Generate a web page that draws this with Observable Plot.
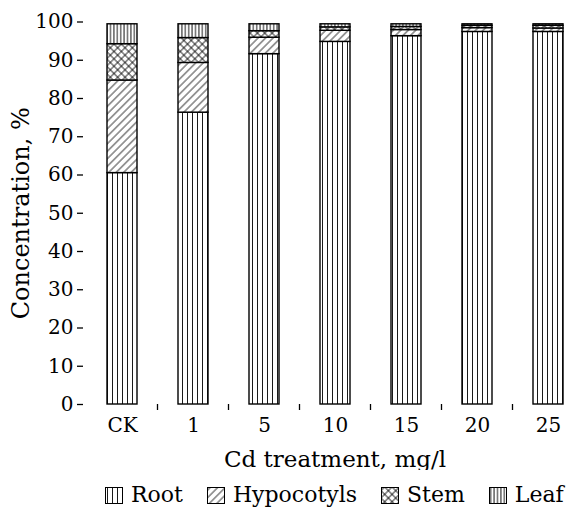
<!DOCTYPE html>
<html>
<head>
<meta charset="utf-8">
<script src="https://cdn.jsdelivr.net/npm/d3@7"></script>
<script src="https://cdn.jsdelivr.net/npm/@observablehq/plot@0.6"></script>
<style>
  html, body { margin: 0; padding: 0; background: #fff; }
  body { width: 586px; height: 509px; position: relative; font-family: "DejaVu Serif", serif; color: #000; }
  #legend { position: absolute; left: 105px; top: 484px; display: flex; align-items: flex-start; font-size: 22px; line-height: 22px; }
  #legend .item { display: flex; align-items: flex-start; margin-right: 24px; }
  #legend svg { margin-top: 3px; margin-right: 8px; }
</style>
</head>
<body>
<svg width="0" height="0" style="position:absolute">
  <defs>
    <pattern id="pat-Root" patternUnits="userSpaceOnUse" width="5" height="10">
      <rect width="5" height="10" fill="#fff"/>
      <line x1="2.5" y1="0" x2="2.5" y2="10" stroke="#000" stroke-width="0.9"/>
    </pattern>
    <pattern id="pat-Leaf" patternUnits="userSpaceOnUse" width="3.4" height="10">
      <rect width="3.4" height="10" fill="#fff"/>
      <line x1="1.7" y1="0" x2="1.7" y2="10" stroke="#000" stroke-width="0.9"/>
    </pattern>
    <pattern id="pat-Hypocotyls" patternUnits="userSpaceOnUse" width="5.3" height="10" patternTransform="rotate(45)">
      <rect width="5.3" height="10" fill="#fff"/>
      <line x1="2.65" y1="0" x2="2.65" y2="10" stroke="#000" stroke-width="0.8"/>
    </pattern>
    <pattern id="pat-Stem" patternUnits="userSpaceOnUse" width="5.2" height="5.2" patternTransform="rotate(45)">
      <rect width="5.2" height="5.2" fill="#fff"/>
      <line x1="2.6" y1="0" x2="2.6" y2="5.2" stroke="#000" stroke-width="0.8"/>
      <line x1="0" y1="2.6" x2="5.2" y2="2.6" stroke="#000" stroke-width="0.8"/>
    </pattern>
  </defs>
</svg>
<div id="chart"></div>
<div id="legend"></div>
<script>
// ---- data ----
const categories = ["CK", "1", "5", "10", "15", "20", "25"];
const parts = ["Root", "Hypocotyls", "Stem", "Leaf"];
const root       = [60.5, 76.3, 91.6, 94.8, 96.3, 97.4, 97.4];
const hypocotyls = [24.2, 13.0, 4.3, 2.9, 1.6, 1.0, 0.9];
const stem       = [9.5, 6.5, 1.7, 0.9, 0.8, 0.6, 0.7];
const leaf       = [5.2, 3.6, 1.8, 0.8, 0.7, 0.4, 0.4];
const yTicks = [0, 10, 20, 30, 40, 50, 60, 70, 80, 90, 100];
const xLabel = "Cd treatment, mg/l";
const yLabel = "Concentration, %";

const series = {Root: root, Hypocotyls: hypocotyls, Stem: stem, Leaf: leaf};
const table = parts.flatMap(p => categories.map((c, i) => ({category: c, part: p, value: series[p][i]})));

// tick marks on the band boundaries, derived from the x scale
function boundaryTicks(index, scales) {
  const x = scales.x, y = scales.y;
  const bw = x.bandwidth ? x.bandwidth() : 0;
  const g = d3.create("svg:g").attr("stroke", "#000").attr("stroke-width", 1.3);
  const y0 = y(0);
  for (let i = 0; i < categories.length - 1; i++) {
    const b = (x(categories[i]) + bw + x(categories[i + 1])) / 2;
    g.append("line").attr("x1", b).attr("x2", b).attr("y1", y0).attr("y2", y0 + 6);
  }
  return g.node();
}

const chart = Plot.plot({
  width: 586,
  height: 470,
  marginLeft: 83,
  marginRight: 0,
  marginTop: 21.5,
  marginBottom: 66,
  style: {fontFamily: "DejaVu Serif", background: "#fff", color: "#000"},
  x: {domain: categories, paddingInner: 0.58, paddingOuter: 0.29},
  y: {domain: [0, 100]},
  color: {domain: parts, range: parts.map(p => `url(#pat-${p})`)},
  marks: [
    Plot.barY(table, {x: "category", y: "value", fill: "part", stroke: "#000", strokeWidth: 1.4}),
    Plot.axisX({tickSize: 0, tickPadding: 13, fontSize: 20, line: true, strokeWidth: 1.3, label: null}),
    Plot.axisX({ticks: [], tickSize: 0, fontSize: 23, label: xLabel, labelArrow: "none", labelAnchor: "center", labelOffset: 62}),
    Plot.axisY({ticks: yTicks, tickSize: 6, tickPadding: 4, fontSize: 20, line: true, strokeWidth: 1.3, label: null}),
    Plot.axisY({ticks: [], tickSize: 0, fontSize: 24, label: yLabel, labelArrow: "none", labelAnchor: "center", labelOffset: 72}),
    boundaryTicks
  ]
});
document.getElementById("chart").append(chart);

// legend
const legend = d3.select("#legend");
parts.forEach(p => {
  const item = legend.append("div").attr("class", "item");
  const s = item.append("svg").attr("width", 18).attr("height", 17);
  s.append("rect").attr("x", 0.5).attr("y", 0.5).attr("width", 17).attr("height", 16)
    .attr("fill", `url(#pat-${p})`).attr("stroke", "#000").attr("stroke-width", 1);
  item.append("span").text(p);
});
</script>
</body>
</html>
